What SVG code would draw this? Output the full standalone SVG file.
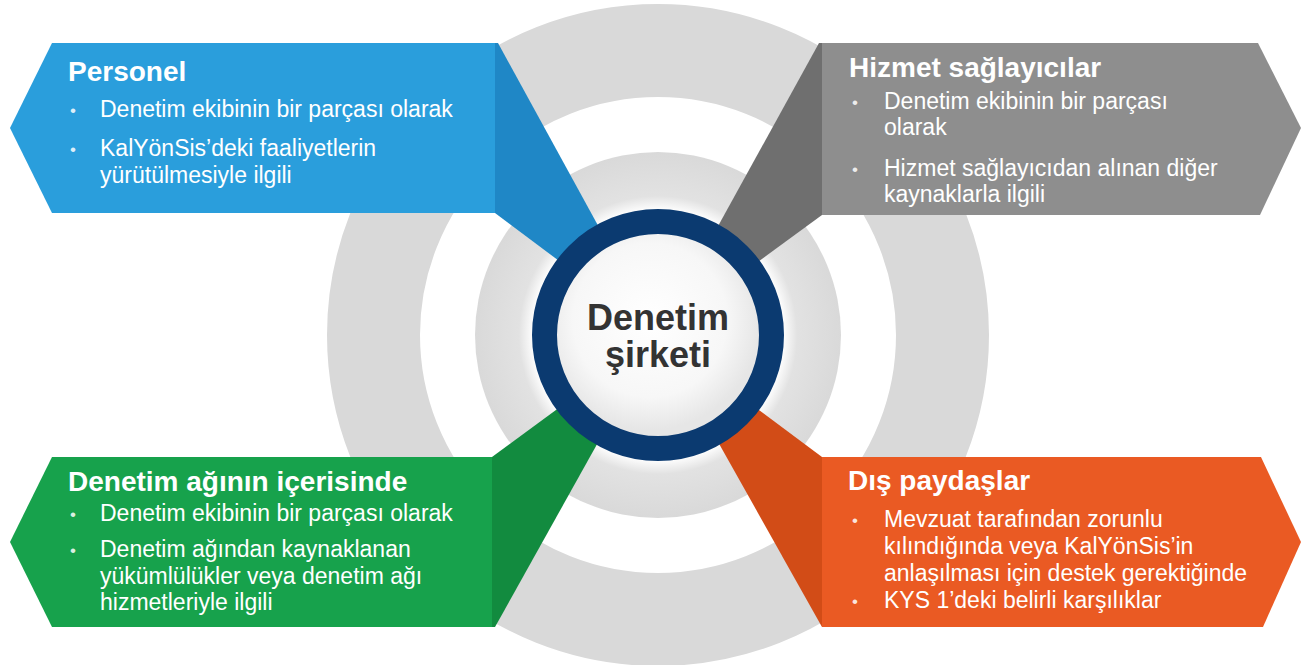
<svg xmlns="http://www.w3.org/2000/svg" width="1313" height="665" viewBox="0 0 1313 665">
<style>
.hd{font-family:"Liberation Sans",Arial,sans-serif;font-weight:bold;font-size:28px;fill:#ffffff}
.bd{font-family:"Liberation Sans",Arial,sans-serif;font-size:23px;fill:#ffffff}
.bl{font-family:"Liberation Sans",Arial,sans-serif;font-size:17px;fill:#ffffff;fill-opacity:0.85}
.ct{font-family:"Liberation Sans",Arial,sans-serif;font-weight:bold;font-size:36px;fill:#333333}
.ring{fill:none;stroke:#d9d9d9}
</style>
<defs>
<radialGradient id="glow" cx="658" cy="335" r="183" gradientUnits="userSpaceOnUse">
<stop offset="0.68" stop-color="#ffffff"/>
<stop offset="0.76" stop-color="#e2e2e2"/>
<stop offset="1" stop-color="#d9d9d9"/>
</radialGradient>
<radialGradient id="face" cx="650" cy="320" r="110" gradientUnits="userSpaceOnUse">
<stop offset="0" stop-color="#ffffff"/>
<stop offset="0.7" stop-color="#f7f7f7"/>
<stop offset="1" stop-color="#e6e6e6"/>
</radialGradient>
</defs>
<rect x="0" y="0" width="1313" height="665" fill="#ffffff"/>
<g id="rings">
<circle class="ring" cx="658" cy="335" r="284.5" stroke-width="93"/>
<circle cx="658" cy="335" r="183" fill="url(#glow)"/>
</g>
<g id="connectors">
<polygon points="495,43 498,43 658,335 495,213" fill="#1f87c6"/>
<polygon points="822,43 819,43 658,335 822,215" fill="#6f6f6f"/>
<polygon points="492,457 658,335 495,627 492,627" fill="#128b3f"/>
<polygon points="822,457 658,335 822,627" fill="#d24c17"/>
</g>
<g id="node-personel">
<polygon points="52,43 495,43 495,213 52,213 10,128" fill="#2a9edc"/>
<text class="hd" x="68" y="81">Personel</text>
<text class="bl" x="70" y="116">•</text>
<text class="bd" x="100" y="117">Denetim ekibinin bir parçası olarak</text>
<text class="bl" x="70" y="155">•</text>
<text class="bd" x="100" y="156">KalYönSis’deki faaliyetlerin</text>
<text class="bd" x="100" y="183">yürütülmesiyle ilgili</text>
</g>
<g id="node-hizmet">
<polygon points="822,43 1258,43 1301,128 1260,215 822,215" fill="#8e8e8e"/>
<text class="hd" x="849" y="77">Hizmet sağlayıcılar</text>
<text class="bl" x="852" y="108">•</text>
<text class="bd" x="884" y="109">Denetim ekibinin bir parçası</text>
<text class="bd" x="884" y="135">olarak</text>
<text class="bl" x="852" y="175">•</text>
<text class="bd" x="884" y="176">Hizmet sağlayıcıdan alınan diğer</text>
<text class="bd" x="884" y="202">kaynaklarla ilgili</text>
</g>
<g id="node-ag">
<polygon points="52,457 492,457 492,627 52,627 10,542" fill="#17a24c"/>
<text class="hd" x="68" y="491">Denetim ağının içerisinde</text>
<text class="bl" x="70" y="520">•</text>
<text class="bd" x="100" y="521">Denetim ekibinin bir parçası olarak</text>
<text class="bl" x="70" y="556">•</text>
<text class="bd" x="100" y="557">Denetim ağından kaynaklanan</text>
<text class="bd" x="100" y="584">yükümlülükler veya denetim ağı</text>
<text class="bd" x="100" y="610">hizmetleriyle ilgili</text>
</g>
<g id="node-dis">
<polygon points="822,457 1261,457 1301,542 1263,627 822,627" fill="#ea5a23"/>
<text class="hd" x="848" y="490">Dış paydaşlar</text>
<text class="bl" x="852" y="526">•</text>
<text class="bd" x="884" y="527">Mevzuat tarafından zorunlu</text>
<text class="bd" x="884" y="554">kılındığında veya KalYönSis’in</text>
<text class="bd" x="884" y="581">anlaşılması için destek gerektiğinde</text>
<text class="bl" x="852" y="607">•</text>
<text class="bd" x="884" y="608">KYS 1’deki belirli karşılıklar</text>
</g>
<g id="node-center">
<circle cx="658" cy="335" r="113.5" fill="url(#face)" stroke="#0b3a70" stroke-width="25"/>
<text class="ct" x="658" y="330" text-anchor="middle">Denetim</text>
<text class="ct" x="658" y="367" text-anchor="middle">şirketi</text>
</g>
</svg>
